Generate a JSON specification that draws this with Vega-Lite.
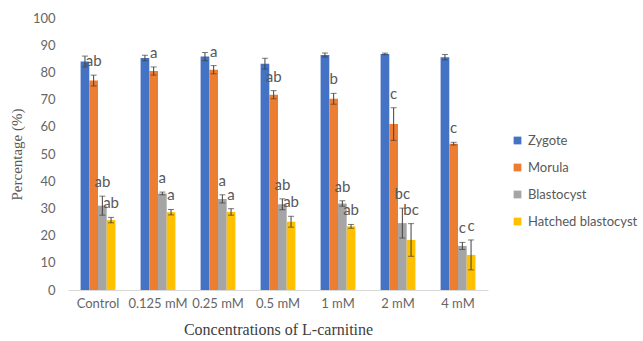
{
  "$schema": "https://vega.github.io/schema/vega-lite/v6.json",
  "width": 420,
  "height": 272,
  "autosize": "none",
  "padding": {"left": 68, "top": 18, "right": 155, "bottom": 51},
  "background": "white",
  "config": {"view": {"stroke": null}, "font": "Lato"},
  "resolve": {"axis": {"y": "independent"}},
  "data": {
    "values": [
      {"conc": "Control", "stage": "Zygote", "value": 84, "err": 2, "label": ""},
      {"conc": "Control", "stage": "Morula", "value": 77, "err": 2, "label": "ab"},
      {"conc": "Control", "stage": "Blastocyst", "value": 31, "err": 3.5, "label": "ab"},
      {"conc": "Control", "stage": "Hatched blastocyst", "value": 25.7, "err": 1, "label": "ab"},
      {"conc": "0.125 mM", "stage": "Zygote", "value": 85.3, "err": 1, "label": ""},
      {"conc": "0.125 mM", "stage": "Morula", "value": 80.5, "err": 1.5, "label": "a"},
      {"conc": "0.125 mM", "stage": "Blastocyst", "value": 35.5, "err": 0.5, "label": "a"},
      {"conc": "0.125 mM", "stage": "Hatched blastocyst", "value": 28.6, "err": 1, "label": "a"},
      {"conc": "0.25 mM", "stage": "Zygote", "value": 85.8, "err": 1.5, "label": ""},
      {"conc": "0.25 mM", "stage": "Morula", "value": 81, "err": 1.5, "label": "a"},
      {"conc": "0.25 mM", "stage": "Blastocyst", "value": 33.5, "err": 1.5, "label": "a"},
      {"conc": "0.25 mM", "stage": "Hatched blastocyst", "value": 28.7, "err": 1.2, "label": "a"},
      {"conc": "0.5 mM", "stage": "Zygote", "value": 83.2, "err": 2, "label": ""},
      {"conc": "0.5 mM", "stage": "Morula", "value": 71.8, "err": 1.5, "label": "ab"},
      {"conc": "0.5 mM", "stage": "Blastocyst", "value": 31.5, "err": 2, "label": "ab"},
      {"conc": "0.5 mM", "stage": "Hatched blastocyst", "value": 25.1, "err": 2, "label": "ab"},
      {"conc": "1 mM", "stage": "Zygote", "value": 86.4, "err": 0.7, "label": ""},
      {"conc": "1 mM", "stage": "Morula", "value": 70.3, "err": 2, "label": "b"},
      {"conc": "1 mM", "stage": "Blastocyst", "value": 31.8, "err": 1, "label": "ab"},
      {"conc": "1 mM", "stage": "Hatched blastocyst", "value": 23.4, "err": 0.7, "label": "ab"},
      {"conc": "2 mM", "stage": "Zygote", "value": 86.8, "err": 0.3, "label": ""},
      {"conc": "2 mM", "stage": "Morula", "value": 61, "err": 6, "label": "c"},
      {"conc": "2 mM", "stage": "Blastocyst", "value": 24.6, "err": 5.5, "label": "bc"},
      {"conc": "2 mM", "stage": "Hatched blastocyst", "value": 18.4, "err": 6, "label": "bc"},
      {"conc": "4 mM", "stage": "Zygote", "value": 85.6, "err": 1, "label": ""},
      {"conc": "4 mM", "stage": "Morula", "value": 53.8, "err": 0.5, "label": "c"},
      {"conc": "4 mM", "stage": "Blastocyst", "value": 16.2, "err": 1.3, "label": "c"},
      {"conc": "4 mM", "stage": "Hatched blastocyst", "value": 12.9, "err": 5.5, "label": "c"}
    ]
  },
  "transform": [
    {"calculate": "datum.value - datum.err", "as": "lo"},
    {"calculate": "datum.value + datum.err", "as": "hi"}
  ],
  "encoding": {
    "x": {
      "field": "conc",
      "type": "nominal",
      "sort": ["Control", "0.125 mM", "0.25 mM", "0.5 mM", "1 mM", "2 mM", "4 mM"],
      "scale": {"paddingInner": 0.42, "paddingOuter": 0.21},
      "axis": {
        "title": "Concentrations of L-carnitine",
        "titleFont": "Liberation Serif",
        "titleFontSize": 16,
        "titleFontWeight": "normal",
        "titleColor": "#404040",
        "titlePadding": 11,
        "labelAngle": 0,
        "labelFontSize": 13,
        "labelColor": "#666666",
        "labelPadding": 7,
        "labelOverlap": false,
        "ticks": false,
        "domainColor": "#d9d9d9",
        "domainWidth": 1
      }
    },
    "xOffset": {
      "field": "stage",
      "type": "nominal",
      "sort": ["Zygote", "Morula", "Blastocyst", "Hatched blastocyst"],
      "scale": {"paddingInner": 0, "paddingOuter": 0}
    }
  },
  "layer": [
    {
      "mark": {"type": "bar"},
      "encoding": {
        "y": {
          "field": "value",
          "type": "quantitative",
          "scale": {"domain": [0, 100]},
          "axis": {
            "title": "Percentage (%)",
            "titleFont": "Liberation Serif",
            "titleFontSize": 15,
            "titleFontWeight": "normal",
            "titleColor": "#595959",
            "titlePadding": 8,
            "values": [0, 10, 20, 30, 40, 50, 60, 70, 80, 90, 100],
            "labelOverlap": false,
            "grid": false,
            "domain": false,
            "ticks": false,
            "labelFontSize": 13,
            "labelColor": "#666666",
            "labelPadding": 13
          }
        },
        "color": {
          "field": "stage",
          "type": "nominal",
          "scale": {
            "domain": ["Zygote", "Morula", "Blastocyst", "Hatched blastocyst"],
            "range": ["#4472C4", "#ED7D31", "#A5A5A5", "#FFC000"]
          },
          "legend": {
            "title": null,
            "orient": "none",
            "legendX": 443,
            "legendY": 116,
            "symbolType": "square",
            "symbolSize": 60,
            "symbolStrokeWidth": 0,
            "labelFontSize": 13,
            "labelColor": "#595959",
            "rowPadding": 13,
            "labelOffset": 4
          }
        }
      }
    },
    {
      "mark": {"type": "rule", "color": "#404040", "strokeWidth": 1},
      "encoding": {
        "y": {"field": "lo", "type": "quantitative", "axis": null},
        "y2": {"field": "hi"}
      }
    },
    {
      "mark": {"type": "tick", "color": "#404040", "thickness": 1, "size": 6},
      "encoding": {"y": {"field": "lo", "type": "quantitative", "axis": null}}
    },
    {
      "mark": {"type": "tick", "color": "#404040", "thickness": 1, "size": 6},
      "encoding": {"y": {"field": "hi", "type": "quantitative", "axis": null}}
    },
    {
      "mark": {"type": "text", "color": "#595959", "fontSize": 15, "baseline": "middle", "dy": -14},
      "encoding": {
        "y": {"field": "hi", "type": "quantitative", "axis": null},
        "text": {"field": "label"}
      }
    }
  ]
}
